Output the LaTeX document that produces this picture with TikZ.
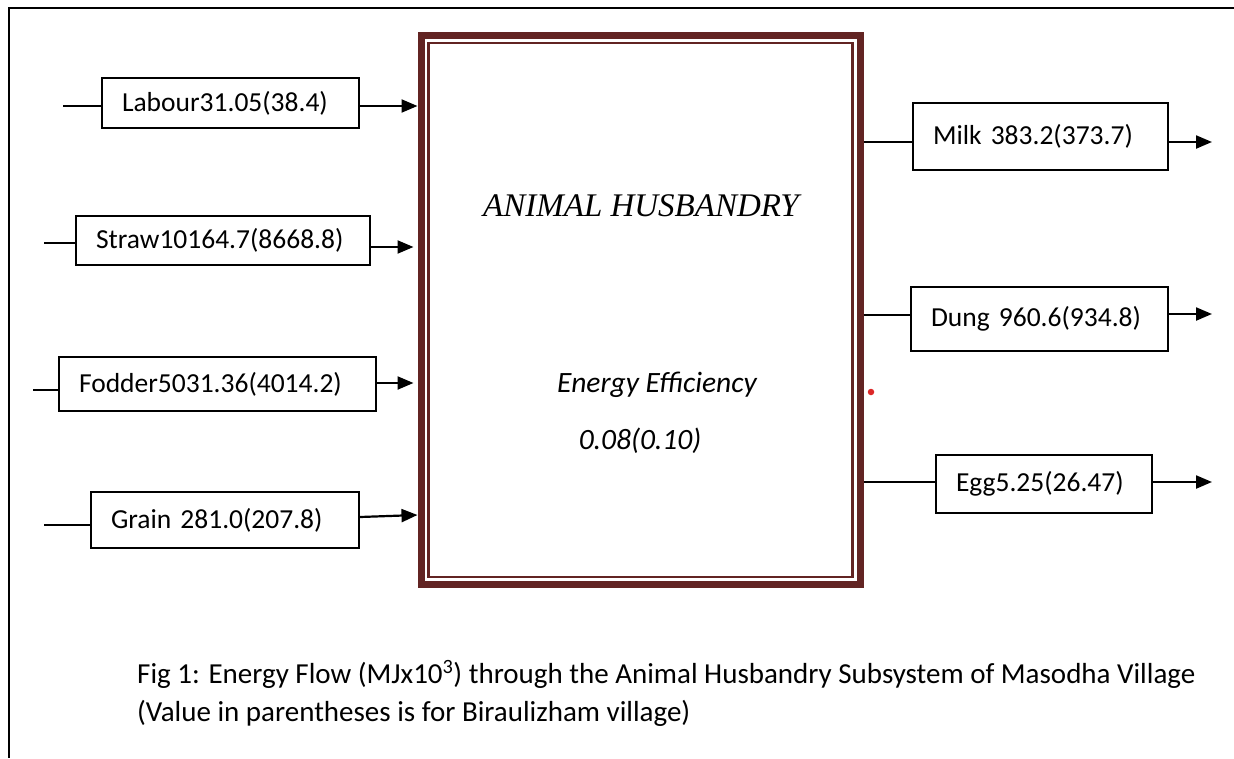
\documentclass[tikz,border=0pt]{standalone}
\usepackage{fontspec}
\setmainfont{Carlito}
\newfontfamily\titlefont{Liberation Serif}
\usetikzlibrary{arrows.meta}
\definecolor{maroon}{RGB}{98,36,35}
\definecolor{dotred}{RGB}{220,40,40}
\begin{document}
\begin{tikzpicture}[x=1pt,y=-1pt,
  every node/.style={font=\fontsize{27.5}{33}\selectfont},
  flow/.style={draw=black, line width=2pt, inner xsep=20pt, inner ysep=0pt, align=left},
  stub/.style={line width=2.2pt},
  arr/.style={line width=2.2pt, -{Triangle[length=16pt,width=13pt]}},
]
\useasboundingbox (0,0) rectangle (1234,758);
% page frame
\draw[line width=2pt] (1234,8) -- (9,8) -- (9,758);

% central block
\node[draw=maroon, line width=7pt, minimum width=439pt, minimum height=549pt, inner sep=0pt] (hb) at (640.5,310) {};
\draw[maroon, line width=2.5pt] ([shift={(11,11)}]hb.north west) rectangle ([shift={(-11,-11)}]hb.south east);
\node[font=\titlefont\itshape\fontsize{33}{40}\selectfont] (t1) at (641,206) {ANIMAL HUSBANDRY};
\node[font=\fontsize{29.5}{34}\selectfont\itshape] (t2) at (657,385) {Energy Efficiency};
\node[font=\fontsize{29.5}{34}\selectfont\itshape] (t3) at (640,441) {0.08(0.10)};
\node[circle, fill=dotred, inner sep=0pt, minimum size=6.5pt] (dot) at (871,392) {};

% input boxes
\node[flow, text width=217pt, minimum height=50pt] (lab) at (230.5,103) {Labour31.05(38.4)};
\node[flow, text width=254pt, minimum height=49pt] (str) at (223,240.5) {Straw10164.7(8668.8)};
\node[flow, text width=277pt, minimum height=54pt] (fod) at (217.5,384) {Fodder5031.36(4014.2)};
\node[flow, text width=228pt, minimum height=56pt] (gra) at (225,520) {Grain 281.0(207.8)};

% output boxes
\node[flow, text width=215pt, minimum height=67pt] (mil) at (1040.5,136.5) {Milk 383.2(373.7)};
\node[flow, text width=217pt, minimum height=64pt] (dun) at (1039.5,319) {Dung 960.6(934.8)};
\node[flow, text width=176pt, minimum height=58pt] (egg) at (1044,484) {Egg5.25(26.47)};

% free ends / levels
\coordinate (la) at (63,106);
\coordinate (sa) at (44,243);
\coordinate (sb) at (0,247);
\coordinate (fa) at (33,390);
\coordinate (fb) at (0,383);
\coordinate (ga) at (44,525);
\coordinate (gb) at (360,517);
\coordinate (ma) at (1212,142);
\coordinate (da) at (1212,314);
\coordinate (ea) at (1212,482);

% input connectors
\draw[stub] (la) -- (la -| lab.west);
\draw[arr] (la -| lab.east) -- (la -| hb.west);
\draw[stub] (sa) -- (sa -| str.west);
\draw[arr, shorten >=4pt] (sb -| str.east) -- (sb -| hb.west);
\draw[stub] (fa) -- (fa -| fod.west);
\draw[arr, shorten >=4pt] (fb -| fod.east) -- (fb -| hb.west);
\draw[stub] (ga) -- (ga -| gra.west);
\draw[arr] (gb -| gra.east) -- ([yshift=2pt]gb -| hb.west);

% output connectors
\draw[stub] (ma -| hb.east) -- (ma -| mil.west);
\draw[arr] (ma -| mil.east) -- (ma);
\draw[stub] ([yshift=-1pt]da -| hb.east) -- ([yshift=-1pt]da -| dun.west);
\draw[arr] (da -| dun.east) -- (da);
\draw[stub] (ea -| hb.east) -- (ea -| egg.west);
\draw[arr] (ea -| egg.east) -- (ea);

% caption
\node[anchor=base west, inner sep=0pt, font=\fontsize{29}{34}\selectfont] (cap1) at (137,683) {Fig 1: Energy Flow (MJx10\textsuperscript{3}) through the Animal Husbandry Subsystem of Masodha Village};
\node[anchor=base west, inner sep=0pt, font=\fontsize{29}{34}\selectfont] (cap2) at (137,721) {(Value in parentheses is for Biraulizham village)};
\end{tikzpicture}
\end{document}
